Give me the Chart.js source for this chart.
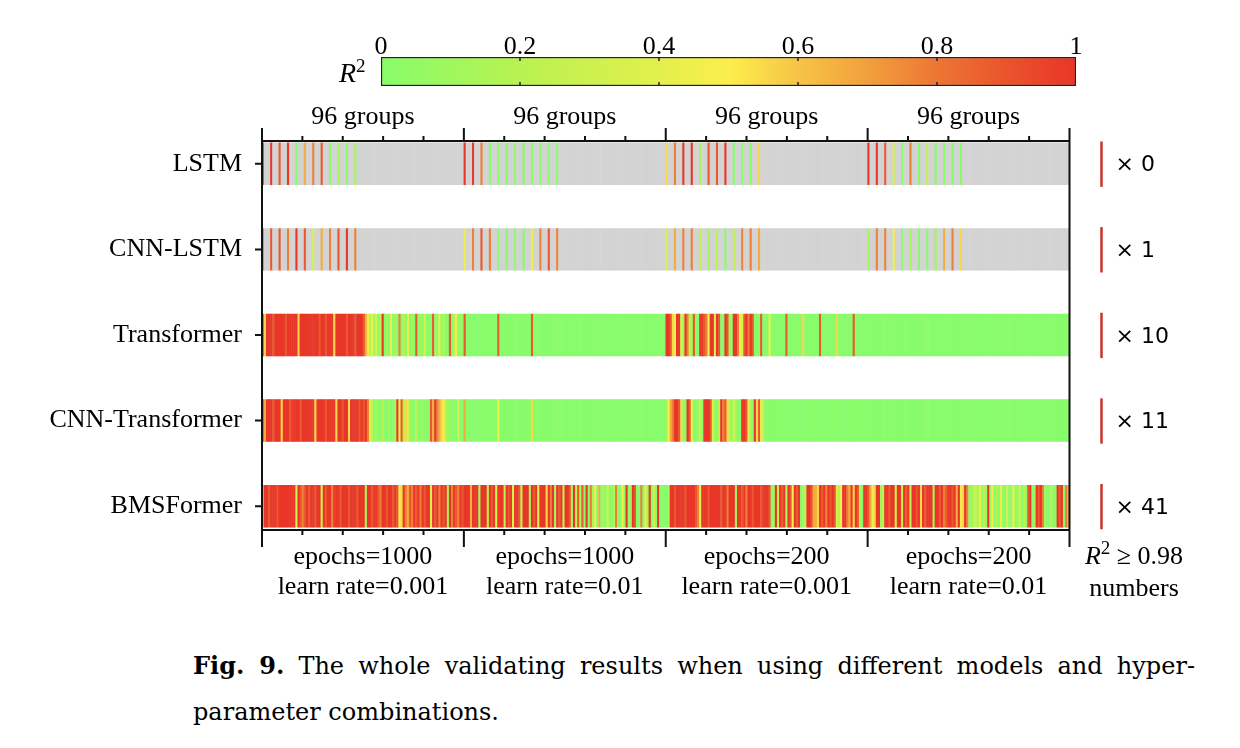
<!DOCTYPE html>
<html>
<head>
<meta charset="utf-8">
<script src="https://cdn.jsdelivr.net/npm/chart.js@4.4.1/dist/chart.umd.min.js"></script>
<style>
  body { margin: 0; background: #fff; }
  #wrap { position: relative; width: 1240px; height: 748px; overflow: hidden; }
  canvas { position: absolute; left: 0; top: 0; }
  .serif { position: absolute; font-family: "Liberation Serif", "Times New Roman", serif; color: #000; white-space: nowrap; }
  .sup { position: relative; top: -10px; font-size: 19px; }
  #r2bar { left: 339px; top: 58px; font-size: 28px; line-height: 30px; }
  #r2count { left: 1072px; top: 541px; width: 124px; text-align: center; font-size: 26px; line-height: 30px; }
  .cap { left: 193px; width: 1002px; font-family: "DejaVu Serif", serif; font-size: 24px; line-height: 30px; }
  #cap1 { top: 651px; text-align: justify; text-align-last: justify; }
  #cap2 { top: 697px; }
</style>
</head>
<body>
<div id="wrap">
  <canvas id="main" width="1240" height="620"></canvas>
  <canvas id="bar" width="1240" height="100"></canvas>
  <div id="r2bar" class="serif"><i>R</i><span class="sup">2</span></div>
  <div id="r2count" class="serif"><i>R</i><span class="sup">2</span> &#8805; 0.98<br>numbers</div>
  <div id="cap1" class="serif cap"><b>Fig. 9.</b> The whole validating results when using different models and hyper-</div>
  <div id="cap2" class="serif cap">parameter combinations.</div>
</div>
<script>
// models top to bottom
const models = ['LSTM', 'CNN-LSTM', 'Transformer', 'CNN-Transformer', 'BMSFormer'];
const groupTitles = ['96 groups', '96 groups', '96 groups', '96 groups'];
const groupEpochs = ['epochs=1000', 'epochs=1000', 'epochs=200', 'epochs=200'];
const groupRates = ['learn rate=0.001', 'learn rate=0.01', 'learn rate=0.001', 'learn rate=0.01'];
const countAbove098 = [0, 1, 10, 11, 41];
const colorbarTicks = [0, 0.2, 0.4, 0.6, 0.8, 1];

// R2 of every run, one char per run, 96 runs per hyper-parameter group
// digit d -> R2 = d / 9 (0 green ... 9 red), '.' = no result (grey)
const r2LSTM = [
  '9...9...8...9...0...6...7...8...0...1...0...1...',
  '9...9...7...0...0...0...0...0...0...0...0...0...',
  '5...7...9...9...1...8...8...9...0...0...0...5...',
  '9...9...8...3...0...7...0...2...0...0...0...0...'
];
const r2CNNLSTM = [
  '7...8...8...7...9...8...3...6...7...8...9...7...',
  '4...7...8...7...0...0...0...0...4...7...8...7...',
  '3...6...7...7...2...1...2...0...2...7...7...6...',
  '1...7...7...4...0...1...0...0...1...6...7...5...'
];
const r2Transformer = [
  '85999899 99989999 95999999 99989989 99599999 89998999 86424130 29010401 07020401 08010300 08104020 08024010',
  '80000000 00000000 80000000 00000000 80000000 00000000 00000000 00000000 00000000 00000000 00000000 00000000',
  '99854993 19721800 99874993 98009810 99743897 98000800 04000000 08000000 05000000 08000000 05000000 08000000',
  '00000000 00000000 00000000 00000000 00000000 00000000 00000000 00000000 00000000 00000000 00000000 00000000'
];
const r2CNNTransformer = [
  '86999899 95999899 99899999 95999989 99959989 95999989 89732010 02001001 94825310 02001000 86976542 01000300',
  '60000000 00000000 40000000 00000000 50000000 00000000 00000000 00000000 00000000 00000000 00000000 00000000',
  '14679985 10984001 20999831 02978520 31009984 10958420 00000000 00000000 00000000 00000000 00000000 00000000',
  '00000000 00000000 00000000 00000000 00000000 00000000 00000000 00000000 00000000 00000000 00000000 00000000'
];
const r2BMSFormer = [
  '69989998 99999999 39878989 98993989 97999899 98999899 91998998 79989989 84597687 98979899 39897989 19798798',
  '99969991 99929893 99929893 99829991 98939995 97919892 99819281 80907140 60103002 70041901 98007041 90309000',
  '01998999 98999987 39998999 99899799 91998979 98999899 98019298 91984989 01299866 59897989 83249976 95981099',
  '86459912 99899399 29892998 95989991 99897899 89694597 10231412 09140204 10301401 30208901 98971002 00989076'
];

const runsPerGroup = 96;
const serif = '"Liberation Serif", "Times New Roman", serif';

// colour map of the R2 bar
const colorStops = [
  [0, [136, 252, 106]], [0.2, [184, 242, 80]], [0.4, [226, 240, 76]], [0.5, [252, 238, 76]],
  [0.6, [246, 196, 70]], [0.7, [242, 160, 60]], [0.8, [237, 118, 52]], [0.9, [234, 84, 44]], [1, [232, 54, 40]]
];

function r2Color(v) {
  for (let k = 1; k < colorStops.length; k++) {
    const [t0, c0] = colorStops[k - 1];
    const [t1, c1] = colorStops[k];
    if (v <= t1) {
      const f = (v - t0) / (t1 - t0);
      return 'rgb(' + c0.map((c, j) => Math.round(c + (c1[j] - c) * f)).join(',') + ')';
    }
  }
  return 'rgb(232,54,40)';
}

function parseRuns(groups) {
  return groups
    .map(g => g.replace(/\s/g, '').padEnd(runsPerGroup, '.').slice(0, runsPerGroup))
    .join('')
    .split('')
    .map(ch => (ch === '.' ? null : Number(ch) / 9));
}

const rows = [r2LSTM, r2CNNLSTM, r2Transformer, r2CNNTransformer, r2BMSFormer].map(parseRuns);
const runLabels = rows[0].map((_, i) => i + 1);

const datasets = rows.map((vals, i) => ({
  label: models[i],
  data: vals.map(() => [i - 0.248, i + 0.248]),
  backgroundColor: vals.map(v => (v === null ? '#d3d3d3' : r2Color(v))),
  borderWidth: 0,
  barPercentage: 1.25,
  categoryPercentage: 1,
  grouped: false
}));

// axes, group labels and the counts on the right
const frame = {
  id: 'frame',
  afterDraw(chart) {
    const { ctx, chartArea: a, scales: { y } } = chart;
    const gw = (a.right - a.left) / groupTitles.length;
    ctx.save();
    ctx.strokeStyle = '#111';
    ctx.lineWidth = 2;
    ctx.beginPath();
    ctx.moveTo(a.left, a.top - 13); ctx.lineTo(a.left, a.bottom + 17);
    ctx.moveTo(a.right, a.top - 13); ctx.lineTo(a.right, a.bottom + 17);
    ctx.moveTo(a.left, a.top); ctx.lineTo(a.right, a.top);
    ctx.moveTo(a.left, a.bottom); ctx.lineTo(a.right, a.bottom);
    for (let g = 0; g <= groupTitles.length; g++) {
      const x = a.left + g * gw;
      ctx.moveTo(x, a.top - 13); ctx.lineTo(x, a.top);
      ctx.moveTo(x, a.bottom); ctx.lineTo(x, a.bottom + 17);
      if (g < groupTitles.length) {
        for (let m = 1; m < 5; m++) {
          const xm = x + gw * m / 5;
          ctx.moveTo(xm, a.top - 5); ctx.lineTo(xm, a.top);
          ctx.moveTo(xm, a.bottom); ctx.lineTo(xm, a.bottom + 5);
        }
      }
    }
    models.forEach((_, i) => {
      const yc = y.getPixelForValue(i);
      ctx.moveTo(a.left - 7, yc); ctx.lineTo(a.left, yc);
    });
    ctx.stroke();

    ctx.fillStyle = '#000';
    ctx.font = '26px ' + serif;
    ctx.textBaseline = 'middle';
    ctx.textAlign = 'right';
    models.forEach((m, i) => ctx.fillText(m, a.left - 20, y.getPixelForValue(i)));

    ctx.textAlign = 'center';
    groupTitles.forEach((t, g) => {
      const xc = a.left + (g + 0.5) * gw;
      ctx.fillText(t, xc, a.top - 24);
      ctx.fillText(groupEpochs[g], xc, a.bottom + 27);
      ctx.fillText(groupRates[g], xc, a.bottom + 57);
    });

    ctx.strokeStyle = '#c9342b';
    ctx.lineWidth = 2.5;
    ctx.textAlign = 'left';
    ctx.font = '22px "DejaVu Sans", sans-serif';
    countAbove098.forEach((n, i) => {
      const x = a.right + 32;
      ctx.beginPath();
      ctx.moveTo(x, y.getPixelForValue(i - 0.26));
      ctx.lineTo(x, y.getPixelForValue(i + 0.27));
      ctx.stroke();
      ctx.fillText('\u00d7 ' + n, a.right + 46, y.getPixelForValue(i) + 2);
    });
    ctx.restore();
  }
};

new Chart(document.getElementById('main'), {
  type: 'bar',
  data: { labels: runLabels, datasets: datasets },
  options: {
    responsive: false,
    animation: false,
    layout: { padding: { left: 262, right: 1240 - 1069.5, top: 141, bottom: 620 - 530 } },
    plugins: { legend: { display: false }, tooltip: { enabled: false } },
    scales: {
      x: { display: false },
      y: { display: false, min: -0.266, max: 4.278, reverse: true }
    }
  },
  plugins: [frame]
});

// colour bar
function barGradient(chart) {
  const a = chart.chartArea;
  if (!a) return null;
  const x = chart.scales.x;
  const g = chart.ctx.createLinearGradient(x.getPixelForValue(0), 0, x.getPixelForValue(1), 0);
  colorStops.forEach(([t, c]) => g.addColorStop(t, 'rgb(' + c.join(',') + ')'));
  return g;
}

// tick marks inside the bar and the value labels above it
const barAxis = {
  id: 'barAxis',
  afterDatasetsDraw(chart) {
    const { ctx, chartArea: a, scales: { x } } = chart;
    ctx.save();
    ctx.strokeStyle = '#222';
    ctx.lineWidth = 1.5;
    ctx.beginPath();
    colorbarTicks.slice(1, -1).forEach(v => {
      const px = x.getPixelForValue(v);
      ctx.moveTo(px, a.top); ctx.lineTo(px, a.top + 4);
      ctx.moveTo(px, a.bottom - 4); ctx.lineTo(px, a.bottom);
    });
    ctx.stroke();
    ctx.fillStyle = '#000';
    ctx.font = '26px ' + serif;
    ctx.textAlign = 'center';
    ctx.textBaseline = 'alphabetic';
    colorbarTicks.forEach(v => ctx.fillText(String(+v.toFixed(1)), x.getPixelForValue(v), a.top - 3));
    ctx.restore();
  }
};

new Chart(document.getElementById('bar'), {
  type: 'bar',
  data: {
    labels: ['R2'],
    datasets: [{
      data: [[0, 1]],
      backgroundColor: c => barGradient(c.chart),
      borderColor: '#222',
      borderWidth: 1.5,
      borderSkipped: false,
      barPercentage: 1,
      categoryPercentage: 1
    }]
  },
  options: {
    indexAxis: 'y',
    responsive: false,
    animation: false,
    layout: { padding: { left: 381, right: 1240 - 1076, top: 57, bottom: 100 - 86 } },
    plugins: { legend: { display: false }, tooltip: { enabled: false } },
    scales: {
      x: { type: 'linear', display: false, min: 0, max: 1 },
      y: { display: false }
    }
  },
  plugins: [barAxis]
});
</script>
</body>
</html>
